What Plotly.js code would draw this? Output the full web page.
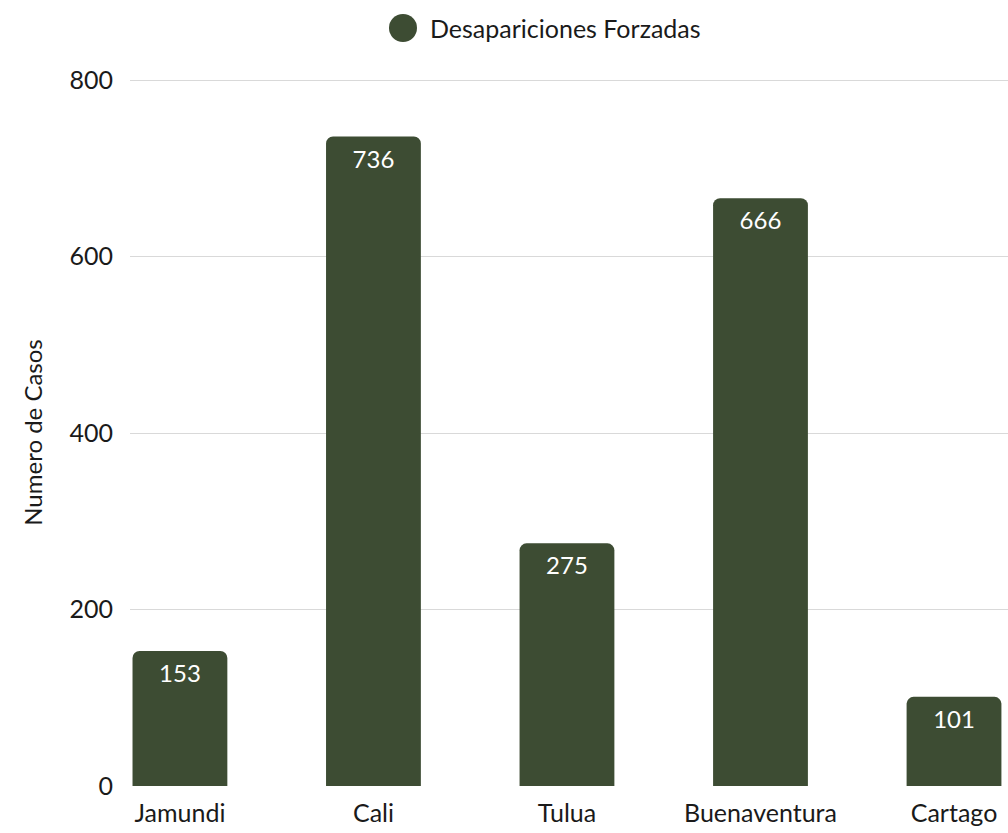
<!DOCTYPE html>
<html>
<head>
<meta charset="utf-8">
<script src="https://cdn.plot.ly/plotly-3.0.1.min.js"></script>
<style>html,body{margin:0;padding:0;background:#fff;}#chart{width:1008px;height:833px;}</style>
</head>
<body>
<div id="chart"></div>
<script>
const categories = ["Jamundi", "Cali", "Tulua", "Buenaventura", "Cartago"];
const casos = [153, 736, 275, 666, 101];
const seriesName = "Desapariciones Forzadas";
const yTicks = [0, 200, 400, 600, 800];
const yTitle = "Numero de Casos";

const FONT = "Lato, 'Open Sans', sans-serif";
const GREEN = "#3d4c33";

const trace = {
  type: "bar",
  x: categories,
  y: casos,
  name: seriesName,
  showlegend: false,
  marker: {color: GREEN, cornerradius: 7},
  text: casos.map(String),
  textposition: "inside",
  insidetextanchor: "end",
  textfont: {family: FONT, size: 24, color: "#ffffff"},
  hoverinfo: "x+y"
};

const layout = {
  width: 1008, height: 833,
  margin: {l: 130, r: 0, t: 79, b: 47},
  paper_bgcolor: "#ffffff",
  plot_bgcolor: "#ffffff",
  font: {family: FONT, color: "#1a1a1a", size: 25},
  bargap: 0.51,
  xaxis: {
    type: "category",
    range: [-0.258, 4.279],
    showgrid: false, zeroline: false, showline: false,
    ticks: "", tickfont: {size: 25, color: "#1a1a1a"},
    ticklabelstandoff: 10
  },
  yaxis: {
    range: [0, 801.2],
    tickvals: yTicks,
    ticktext: yTicks.map(String),
    showgrid: true, gridcolor: "#d9d9d9", gridwidth: 1,
    zeroline: false, showline: false, ticks: "",
    tickfont: {size: 25, color: "#1a1a1a"},
    ticklabelstandoff: 16,
    title: {text: yTitle, font: {size: 24, color: "#1a1a1a"}, standoff: 20}
  },
  shapes: [{
    type: "circle", xref: "paper", yref: "paper",
    xsizemode: "pixel", ysizemode: "pixel",
    xanchor: (403 - 130) / 878, yanchor: 1 + (79 - 28) / 707,
    x0: -14, x1: 14, y0: -14, y1: 14,
    fillcolor: GREEN, line: {width: 0}
  }],
  annotations: [{
    xref: "paper", yref: "paper",
    x: (428 - 130) / 878, y: 1 + (79 - 28) / 707,
    xanchor: "left", yanchor: "middle",
    text: seriesName, showarrow: false,
    font: {family: FONT, size: 25, color: "#1a1a1a"}
  }]
};

Plotly.newPlot("chart", [trace], layout, {displayModeBar: false, responsive: false});
</script>
</body>
</html>
